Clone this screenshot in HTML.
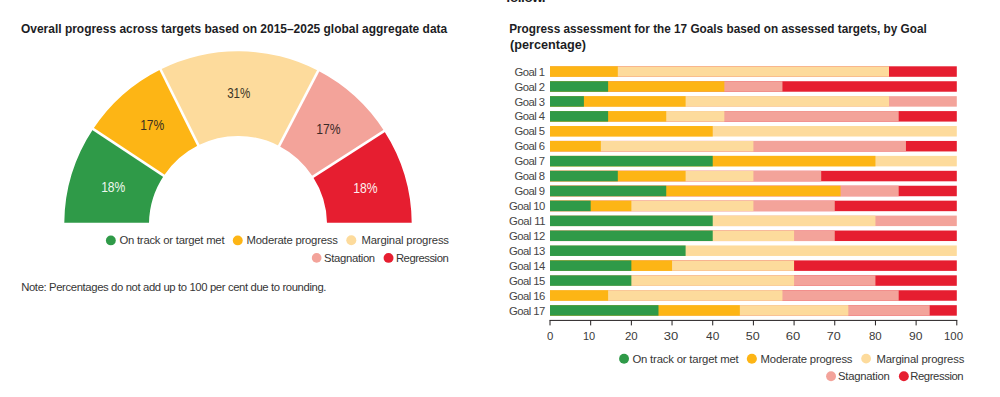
<!DOCTYPE html>
<html><head><meta charset="utf-8">
<style>
html,body{margin:0;padding:0;background:#fff;width:1000px;height:397px;overflow:hidden;position:relative}
body{font-family:"Liberation Sans",sans-serif}
.tx{position:absolute;white-space:nowrap;line-height:20px}
</style></head><body>
<svg width="1000" height="397" style="position:absolute;left:0;top:0">
<defs><clipPath id="cg"><rect x="0" y="0" width="500" height="222.8"/></clipPath></defs>
<g clip-path="url(#cg)"><path d="M64.54,233.99 A173.7,173.7 0 0 1 93.15,129.03 L163.78,175.78 A89.0,89.0 0 0 0 149.12,229.56 Z" fill="#2f9a48"/><path d="M93.15,129.03 A173.7,173.7 0 0 1 160.50,69.45 L198.29,145.25 A89.0,89.0 0 0 0 163.78,175.78 Z" fill="#fdb515"/><path d="M160.50,69.45 A173.7,173.7 0 0 1 318.21,70.83 L279.10,145.96 A89.0,89.0 0 0 0 198.29,145.25 Z" fill="#fddb9c"/><path d="M318.21,70.83 A173.7,173.7 0 0 1 384.17,131.06 L312.89,176.82 A89.0,89.0 0 0 0 279.10,145.96 Z" fill="#f3a39a"/><path d="M384.17,131.06 A173.7,173.7 0 0 1 411.46,233.99 L326.88,229.56 A89.0,89.0 0 0 0 312.89,176.82 Z" fill="#e61e30"/><line x1="166.29" y1="177.43" x2="90.65" y2="127.37" stroke="#fff" stroke-width="2.6"/><line x1="199.63" y1="147.94" x2="159.16" y2="66.77" stroke="#fff" stroke-width="2.6"/><line x1="277.71" y1="148.62" x2="319.59" y2="68.17" stroke="#fff" stroke-width="2.6"/><line x1="310.37" y1="178.44" x2="386.69" y2="129.44" stroke="#fff" stroke-width="2.6"/></g>
<rect x="550.00" y="66.30" width="406.80" height="10.5" fill="#e61e30"/><rect x="550.00" y="66.30" width="339.00" height="10.5" fill="#fddb9c"/><rect x="550.00" y="66.30" width="67.80" height="10.5" fill="#fdb515"/><rect x="550.00" y="81.23" width="406.80" height="10.5" fill="#e61e30"/><rect x="550.00" y="81.23" width="232.46" height="10.5" fill="#f3a39a"/><rect x="550.00" y="81.23" width="174.34" height="10.5" fill="#fdb515"/><rect x="550.00" y="81.23" width="58.11" height="10.5" fill="#2f9a48"/><rect x="550.00" y="96.16" width="406.80" height="10.5" fill="#f3a39a"/><rect x="550.00" y="96.16" width="339.00" height="10.5" fill="#fddb9c"/><rect x="550.00" y="96.16" width="135.60" height="10.5" fill="#fdb515"/><rect x="550.00" y="96.16" width="33.90" height="10.5" fill="#2f9a48"/><rect x="550.00" y="111.09" width="406.80" height="10.5" fill="#e61e30"/><rect x="550.00" y="111.09" width="348.69" height="10.5" fill="#f3a39a"/><rect x="550.00" y="111.09" width="174.34" height="10.5" fill="#fddb9c"/><rect x="550.00" y="111.09" width="116.23" height="10.5" fill="#fdb515"/><rect x="550.00" y="111.09" width="58.11" height="10.5" fill="#2f9a48"/><rect x="550.00" y="126.02" width="406.80" height="10.5" fill="#fddb9c"/><rect x="550.00" y="126.02" width="162.72" height="10.5" fill="#fdb515"/><rect x="550.00" y="140.95" width="406.80" height="10.5" fill="#e61e30"/><rect x="550.00" y="140.95" width="355.95" height="10.5" fill="#f3a39a"/><rect x="550.00" y="140.95" width="203.40" height="10.5" fill="#fddb9c"/><rect x="550.00" y="140.95" width="50.85" height="10.5" fill="#fdb515"/><rect x="550.00" y="155.88" width="406.80" height="10.5" fill="#fddb9c"/><rect x="550.00" y="155.88" width="325.44" height="10.5" fill="#fdb515"/><rect x="550.00" y="155.88" width="162.72" height="10.5" fill="#2f9a48"/><rect x="550.00" y="170.81" width="406.80" height="10.5" fill="#e61e30"/><rect x="550.00" y="170.81" width="271.20" height="10.5" fill="#f3a39a"/><rect x="550.00" y="170.81" width="203.40" height="10.5" fill="#fddb9c"/><rect x="550.00" y="170.81" width="135.60" height="10.5" fill="#fdb515"/><rect x="550.00" y="170.81" width="67.80" height="10.5" fill="#2f9a48"/><rect x="550.00" y="185.74" width="406.80" height="10.5" fill="#e61e30"/><rect x="550.00" y="185.74" width="348.69" height="10.5" fill="#f3a39a"/><rect x="550.00" y="185.74" width="290.57" height="10.5" fill="#fdb515"/><rect x="550.00" y="185.74" width="116.23" height="10.5" fill="#2f9a48"/><rect x="550.00" y="200.67" width="406.80" height="10.5" fill="#e61e30"/><rect x="550.00" y="200.67" width="284.76" height="10.5" fill="#f3a39a"/><rect x="550.00" y="200.67" width="203.40" height="10.5" fill="#fddb9c"/><rect x="550.00" y="200.67" width="81.36" height="10.5" fill="#fdb515"/><rect x="550.00" y="200.67" width="40.68" height="10.5" fill="#2f9a48"/><rect x="550.00" y="215.60" width="406.80" height="10.5" fill="#f3a39a"/><rect x="550.00" y="215.60" width="325.44" height="10.5" fill="#fddb9c"/><rect x="550.00" y="215.60" width="162.72" height="10.5" fill="#2f9a48"/><rect x="550.00" y="230.53" width="406.80" height="10.5" fill="#e61e30"/><rect x="550.00" y="230.53" width="284.76" height="10.5" fill="#f3a39a"/><rect x="550.00" y="230.53" width="244.08" height="10.5" fill="#fddb9c"/><rect x="550.00" y="230.53" width="162.72" height="10.5" fill="#2f9a48"/><rect x="550.00" y="245.46" width="406.80" height="10.5" fill="#fddb9c"/><rect x="550.00" y="245.46" width="135.60" height="10.5" fill="#2f9a48"/><rect x="550.00" y="260.39" width="406.80" height="10.5" fill="#e61e30"/><rect x="550.00" y="260.39" width="244.08" height="10.5" fill="#fddb9c"/><rect x="550.00" y="260.39" width="122.04" height="10.5" fill="#fdb515"/><rect x="550.00" y="260.39" width="81.36" height="10.5" fill="#2f9a48"/><rect x="550.00" y="275.32" width="406.80" height="10.5" fill="#e61e30"/><rect x="550.00" y="275.32" width="325.44" height="10.5" fill="#f3a39a"/><rect x="550.00" y="275.32" width="244.08" height="10.5" fill="#fddb9c"/><rect x="550.00" y="275.32" width="81.36" height="10.5" fill="#2f9a48"/><rect x="550.00" y="290.25" width="406.80" height="10.5" fill="#e61e30"/><rect x="550.00" y="290.25" width="348.69" height="10.5" fill="#f3a39a"/><rect x="550.00" y="290.25" width="232.46" height="10.5" fill="#fddb9c"/><rect x="550.00" y="290.25" width="58.11" height="10.5" fill="#fdb515"/><rect x="550.00" y="305.18" width="406.80" height="10.5" fill="#e61e30"/><rect x="550.00" y="305.18" width="379.68" height="10.5" fill="#f3a39a"/><rect x="550.00" y="305.18" width="298.32" height="10.5" fill="#fddb9c"/><rect x="550.00" y="305.18" width="189.84" height="10.5" fill="#fdb515"/><rect x="550.00" y="305.18" width="108.48" height="10.5" fill="#2f9a48"/>
<line x1="549.5" y1="320.4" x2="957.3" y2="320.4" stroke="#231f20" stroke-width="1"/>
<line x1="550.00" y1="320.4" x2="550.00" y2="325.4" stroke="#231f20" stroke-width="1"/><line x1="590.68" y1="320.4" x2="590.68" y2="325.4" stroke="#231f20" stroke-width="1"/><line x1="631.36" y1="320.4" x2="631.36" y2="325.4" stroke="#231f20" stroke-width="1"/><line x1="672.04" y1="320.4" x2="672.04" y2="325.4" stroke="#231f20" stroke-width="1"/><line x1="712.72" y1="320.4" x2="712.72" y2="325.4" stroke="#231f20" stroke-width="1"/><line x1="753.40" y1="320.4" x2="753.40" y2="325.4" stroke="#231f20" stroke-width="1"/><line x1="794.08" y1="320.4" x2="794.08" y2="325.4" stroke="#231f20" stroke-width="1"/><line x1="834.76" y1="320.4" x2="834.76" y2="325.4" stroke="#231f20" stroke-width="1"/><line x1="875.44" y1="320.4" x2="875.44" y2="325.4" stroke="#231f20" stroke-width="1"/><line x1="916.12" y1="320.4" x2="916.12" y2="325.4" stroke="#231f20" stroke-width="1"/><line x1="956.80" y1="320.4" x2="956.80" y2="325.4" stroke="#231f20" stroke-width="1"/>
<circle cx="110.85" cy="240.40" r="4.95" fill="#2f9a48"/><circle cx="237.75" cy="240.40" r="4.95" fill="#fdb515"/><circle cx="351.30" cy="240.20" r="5.00" fill="#fddb9c"/><circle cx="316.65" cy="257.90" r="4.85" fill="#f3a39a"/><circle cx="388.55" cy="257.90" r="4.95" fill="#e61e30"/><circle cx="624.05" cy="358.70" r="4.95" fill="#2f9a48"/><circle cx="751.85" cy="358.70" r="5.05" fill="#fdb515"/><circle cx="866.10" cy="358.60" r="4.90" fill="#fddb9c"/><circle cx="831.05" cy="376.30" r="4.95" fill="#f3a39a"/><circle cx="903.85" cy="376.30" r="4.95" fill="#e61e30"/>
</svg>
<div class="tx" style="left:20.70px;top:19.40px;font-size:13.6px;font-weight:bold;color:#1d1d24;transform:scaleX(0.8800);transform-origin:0px 0">Overall progress across targets based on 2015–2025 global aggregate data</div><div class="tx" style="left:509.40px;top:18.80px;font-size:13.6px;font-weight:bold;color:#1d1d24;transform:scaleX(0.8663);transform-origin:1px 0">Progress assessment for the 17 Goals based on assessed targets, by Goal</div><div class="tx" style="left:509.60px;top:34.90px;font-size:13.6px;font-weight:bold;color:#1d1d24;transform:scaleX(0.9313);transform-origin:1px 0">(percentage)</div><div class="tx" style="left:506.00px;top:-12.40px;font-size:13.6px;font-weight:bold;color:#1d1d24;letter-spacing:-0.500px;">follow.</div><div class="tx" style="left:101.00px;top:176.90px;font-size:14.2px;font-weight:normal;color:#eef7ee;transform:scaleX(0.8519);transform-origin:1px 0">18%</div><div class="tx" style="left:139.90px;top:115.00px;font-size:14.2px;font-weight:normal;color:#3b3020;transform:scaleX(0.8519);transform-origin:1px 0">17%</div><div class="tx" style="left:227.00px;top:82.80px;font-size:14.2px;font-weight:normal;color:#3b3528;transform:scaleX(0.8148);transform-origin:1px 0">31%</div><div class="tx" style="left:315.80px;top:118.50px;font-size:14.2px;font-weight:normal;color:#3b2a28;transform:scaleX(0.8556);transform-origin:1px 0">17%</div><div class="tx" style="left:352.50px;top:177.50px;font-size:14.2px;font-weight:normal;color:#fdeeee;transform:scaleX(0.8556);transform-origin:1px 0">18%</div><div class="tx" style="left:119.40px;top:229.80px;font-size:11.3px;font-weight:normal;color:#363636;letter-spacing:-0.224px;">On track or target met</div><div class="tx" style="left:246.60px;top:229.80px;font-size:11.3px;font-weight:normal;color:#363636;letter-spacing:-0.225px;">Moderate progress</div><div class="tx" style="left:361.50px;top:229.80px;font-size:11.3px;font-weight:normal;color:#363636;letter-spacing:-0.181px;">Marginal progress</div><div class="tx" style="left:324.10px;top:247.60px;font-size:11.3px;font-weight:normal;color:#363636;letter-spacing:-0.333px;">Stagnation</div><div class="tx" style="left:395.90px;top:247.60px;font-size:11.3px;font-weight:normal;color:#363636;letter-spacing:-0.478px;">Regression</div><div class="tx" style="left:21.20px;top:277.00px;font-size:11.3px;font-weight:normal;color:#363636;letter-spacing:-0.378px;">Note: Percentages do not add up to 100 per cent due to rounding.</div><div class="tx" style="left:632.40px;top:348.80px;font-size:11.3px;font-weight:normal;color:#363636;letter-spacing:-0.171px;">On track or target met</div><div class="tx" style="left:760.60px;top:348.80px;font-size:11.3px;font-weight:normal;color:#363636;letter-spacing:-0.181px;">Moderate progress</div><div class="tx" style="left:876.40px;top:348.80px;font-size:11.3px;font-weight:normal;color:#363636;letter-spacing:-0.156px;">Marginal progress</div><div class="tx" style="left:838.00px;top:366.00px;font-size:11.3px;font-weight:normal;color:#363636;letter-spacing:-0.244px;">Stagnation</div><div class="tx" style="left:910.20px;top:366.00px;font-size:11.3px;font-weight:normal;color:#363636;letter-spacing:-0.411px;">Regression</div><div class="tx" style="left:514.60px;top:61.65px;font-size:11.3px;font-weight:normal;color:#454545;letter-spacing:-0.560px;">Goal 1</div><div class="tx" style="left:514.60px;top:76.58px;font-size:11.3px;font-weight:normal;color:#454545;letter-spacing:-0.560px;">Goal 2</div><div class="tx" style="left:514.60px;top:91.51px;font-size:11.3px;font-weight:normal;color:#454545;letter-spacing:-0.560px;">Goal 3</div><div class="tx" style="left:514.60px;top:106.44px;font-size:11.3px;font-weight:normal;color:#454545;letter-spacing:-0.560px;">Goal 4</div><div class="tx" style="left:514.60px;top:121.37px;font-size:11.3px;font-weight:normal;color:#454545;letter-spacing:-0.560px;">Goal 5</div><div class="tx" style="left:514.60px;top:136.30px;font-size:11.3px;font-weight:normal;color:#454545;letter-spacing:-0.560px;">Goal 6</div><div class="tx" style="left:514.60px;top:151.23px;font-size:11.3px;font-weight:normal;color:#454545;letter-spacing:-0.560px;">Goal 7</div><div class="tx" style="left:514.60px;top:166.16px;font-size:11.3px;font-weight:normal;color:#454545;letter-spacing:-0.560px;">Goal 8</div><div class="tx" style="left:514.60px;top:181.09px;font-size:11.3px;font-weight:normal;color:#454545;letter-spacing:-0.560px;">Goal 9</div><div class="tx" style="left:509.00px;top:196.02px;font-size:11.3px;font-weight:normal;color:#454545;letter-spacing:-0.533px;">Goal 10</div><div class="tx" style="left:509.00px;top:210.95px;font-size:11.3px;font-weight:normal;color:#454545;letter-spacing:-0.367px;">Goal 11</div><div class="tx" style="left:509.00px;top:225.88px;font-size:11.3px;font-weight:normal;color:#454545;letter-spacing:-0.533px;">Goal 12</div><div class="tx" style="left:509.00px;top:240.81px;font-size:11.3px;font-weight:normal;color:#454545;letter-spacing:-0.533px;">Goal 13</div><div class="tx" style="left:509.00px;top:255.74px;font-size:11.3px;font-weight:normal;color:#454545;letter-spacing:-0.533px;">Goal 14</div><div class="tx" style="left:509.00px;top:270.67px;font-size:11.3px;font-weight:normal;color:#454545;letter-spacing:-0.533px;">Goal 15</div><div class="tx" style="left:509.00px;top:285.60px;font-size:11.3px;font-weight:normal;color:#454545;letter-spacing:-0.533px;">Goal 16</div><div class="tx" style="left:509.00px;top:300.53px;font-size:11.3px;font-weight:normal;color:#454545;letter-spacing:-0.533px;">Goal 17</div><div class="tx" style="left:546.80px;top:326.40px;font-size:11px;font-weight:normal;color:#3a3a3a;transform:scaleX(1.0333);transform-origin:0px 0">0</div><div class="tx" style="left:583.00px;top:326.40px;font-size:11px;font-weight:normal;color:#3a3a3a;transform:scaleX(1.0000);transform-origin:1px 0">10</div><div class="tx" style="left:624.50px;top:326.40px;font-size:11px;font-weight:normal;color:#3a3a3a;transform:scaleX(1.0417);transform-origin:0px 0">20</div><div class="tx" style="left:664.00px;top:326.40px;font-size:11px;font-weight:normal;color:#3a3a3a;transform:scaleX(1.1818);transform-origin:1px 0">30</div><div class="tx" style="left:705.50px;top:326.40px;font-size:11px;font-weight:normal;color:#3a3a3a;transform:scaleX(1.0833);transform-origin:0px 0">40</div><div class="tx" style="left:745.50px;top:326.40px;font-size:11px;font-weight:normal;color:#3a3a3a;transform:scaleX(1.1364);transform-origin:1px 0">50</div><div class="tx" style="left:786.00px;top:326.40px;font-size:11px;font-weight:normal;color:#3a3a3a;transform:scaleX(1.1818);transform-origin:1px 0">60</div><div class="tx" style="left:827.00px;top:326.40px;font-size:11px;font-weight:normal;color:#3a3a3a;transform:scaleX(1.1364);transform-origin:1px 0">70</div><div class="tx" style="left:869.00px;top:326.40px;font-size:11px;font-weight:normal;color:#3a3a3a;transform:scaleX(1.0417);transform-origin:0px 0">80</div><div class="tx" style="left:909.20px;top:326.40px;font-size:11px;font-weight:normal;color:#3a3a3a;transform:scaleX(1.1000);transform-origin:0px 0">90</div><div class="tx" style="left:943.80px;top:326.40px;font-size:11px;font-weight:normal;color:#3a3a3a;transform:scaleX(1.0353);transform-origin:1px 0">100</div>
</body></html>
